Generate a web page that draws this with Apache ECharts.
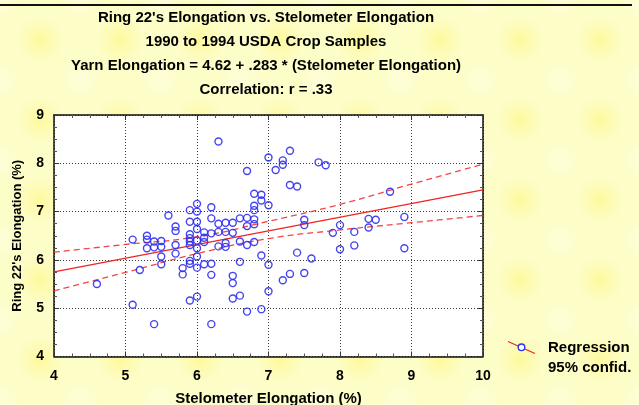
<!DOCTYPE html>
<html>
<head>
<meta charset="utf-8">
<script src="https://cdn.jsdelivr.net/npm/echarts@6/dist/echarts.min.js"></script>
<style>
  html, body { margin: 0; padding: 0; }
  body {
    width: 639px; height: 405px; overflow: hidden;
    background-color: #fdfdc8;
    background-image:
      radial-gradient(circle at 50% 50%, rgba(255, 245, 110, 0.45) 0, rgba(255, 245, 110, 0) 24px),
      radial-gradient(circle at 50% 50%, rgba(255, 255, 235, 0.5) 0, rgba(255, 255, 235, 0) 22px);
    background-size: 80px 80px, 80px 80px;
    background-position: 0 0, 40px 40px;
  }
  #chart { width: 639px; height: 405px; }
</style>
</head>
<body>
<div id="chart"></div>
<script>
// Stelometer elongation (x) and Ring 22's yarn elongation (y), 1990-1994 USDA crop samples
const stelometer = [
  4.6,
  5.1, 5.1,
  5.2,
  5.3, 5.3, 5.3,
  5.4, 5.4, 5.4,
  5.5, 5.5, 5.5, 5.5,
  5.6,
  5.7, 5.7, 5.7, 5.7,
  5.8, 5.8,
  5.9, 5.9, 5.9, 5.9, 5.9, 5.9, 5.9, 5.9, 5.9,
  6.0, 6.0, 6.0, 6.0, 6.0, 6.0, 6.0, 6.0, 6.0,
  6.1, 6.1, 6.1, 6.1,
  6.2, 6.2, 6.2, 6.2, 6.2, 6.2,
  6.3, 6.3, 6.3, 6.3,
  6.4, 6.4, 6.4, 6.4,
  6.5, 6.5, 6.5, 6.5, 6.5,
  6.6, 6.6, 6.6, 6.6,
  6.7, 6.7, 6.7, 6.7, 6.7,
  6.8, 6.8, 6.8, 6.8, 6.8, 6.8,
  6.9, 6.9, 6.9, 6.9,
  7.0, 7.0, 7.0, 7.0,
  7.1,
  7.2, 7.2, 7.2,
  7.3, 7.3, 7.3,
  7.4, 7.4,
  7.5, 7.5, 7.5,
  7.6,
  7.7,
  7.8,
  7.9,
  8.0, 8.0,
  8.2, 8.2,
  8.4, 8.4,
  8.5,
  8.7,
  8.9, 8.9
];
const yarn = [
  5.50,
  6.42, 5.07,
  5.79,
  6.50, 6.42, 6.24,
  6.38, 6.26, 4.67,
  6.39, 6.27, 6.07, 5.91,
  6.92,
  6.69, 6.60, 6.31, 6.13,
  5.83, 5.70,
  7.03, 6.79, 6.53, 6.45, 6.38, 6.31, 5.98, 5.92, 5.16,
  7.16, 7.00, 6.79, 6.64, 6.40, 6.24, 6.07, 5.84, 5.24,
  6.57, 6.46, 6.37, 5.91,
  7.09, 6.86, 6.55, 5.92, 5.69, 4.67,
  8.45, 6.75, 6.58, 6.28,
  6.77, 6.58, 6.35, 6.27,
  6.77, 6.56, 5.67, 5.52, 5.20,
  6.86, 6.38, 5.96, 5.26,
  7.84, 6.87, 6.70, 6.31, 4.93,
  7.37, 7.12, 7.03, 6.84, 6.74, 6.37,
  7.35, 7.23, 6.09, 4.98,
  8.12, 7.13, 5.90, 5.35,
  7.86,
  8.06, 7.97, 5.58,
  8.26, 7.55, 5.71,
  7.52, 6.15,
  6.83, 6.72, 5.73,
  6.03,
  8.02,
  7.96,
  6.56,
  6.72, 6.22,
  6.58, 6.30,
  6.85, 6.67,
  6.83,
  7.41,
  6.89, 6.24
];

// Fitted line: Yarn = 4.62 + .283 * Stelometer
const intercept = 4.62;
const slope = 0.283;
const lineX = [4, 10];

// 95% confidence band, sampled along the x range
const bandX     = [4,    5,    6,    7,    8,    9,    10];
const bandUpper = [6.16, 6.32, 6.48, 6.80, 7.15, 7.57, 7.98];
const bandLower = [5.36, 5.74, 6.13, 6.44, 6.62, 6.77, 6.92];

const xTicks = [4, 5, 6, 7, 8, 9, 10];
const yTicks = [4, 5, 6, 7, 8, 9];

const titleLines = [
  "Ring 22's Elongation vs. Stelometer Elongation",
  "1990 to 1994 USDA Crop Samples",
  "Yarn Elongation = 4.62 + .283 * (Stelometer Elongation)",
  "Correlation: r = .33"
];

const FONT = '"Liberation Sans", Arial, sans-serif';
const RED = '#f02424';
const BLUE = '#3030f0';

const chart = echarts.init(document.getElementById('chart'), null, { renderer: 'canvas' });

const pts = stelometer.map((x, i) => [x, yarn[i]]);
const regLine = lineX.map(x => [x, intercept + slope * x]);
const upper = bandX.map((x, i) => [x, bandUpper[i]]);
const lower = bandX.map((x, i) => [x, bandLower[i]]);

const gridLine = { show: true, lineStyle: { color: '#3a3a3a', type: [1, 2], width: 1 } };
const axisLineStyle = { show: true, lineStyle: { color: '#111', width: 1.5 } };
const labelText = { color: '#000', fontWeight: 'bold', fontSize: 14, fontFamily: FONT };
const nameText = { color: '#000', fontWeight: 'bold', fontSize: 15, fontFamily: FONT };

function xAxis(pos, labels) {
  return {
    type: 'value', position: pos, min: xTicks[0], max: xTicks[xTicks.length - 1], interval: 1,
    axisLine: axisLineStyle,
    axisTick: { show: true, inside: true, length: 5, lineStyle: { color: '#333' } },
    minorTick: { show: true, splitNumber: 4, length: 3, lineStyle: { color: '#555' } },
    splitLine: labels ? gridLine : { show: false },
    axisLabel: labels ? Object.assign({ show: true, margin: 13 }, labelText) : { show: false },
    name: labels ? 'Stelometer Elongation (%)' : '',
    nameLocation: 'middle', nameGap: 35,
    nameTextStyle: nameText
  };
}
function yAxis(pos, labels) {
  return {
    type: 'value', position: pos, min: yTicks[0], max: yTicks[yTicks.length - 1], interval: 1,
    axisLine: axisLineStyle,
    axisTick: { show: true, inside: true, length: 5, lineStyle: { color: '#333' } },
    minorTick: { show: true, splitNumber: 4, length: 3, lineStyle: { color: '#555' } },
    splitLine: labels ? gridLine : { show: false },
    axisLabel: labels ? Object.assign({ show: true, margin: 10 }, labelText) : { show: false },
    name: labels ? "Ring 22's Elongation (%)" : '',
    nameLocation: 'middle', nameGap: 30, nameRotate: 90,
    nameTextStyle: Object.assign({}, nameText, { fontSize: 13 })
  };
}

const titleGraphics = titleLines.map((t, i) => ({
  type: 'text', x: 266, y: 18 + i * 23.8,
  style: { text: t, fill: '#000', font: 'bold 15px ' + FONT, align: 'center', verticalAlign: 'middle' },
  silent: true
}));

chart.setOption({
  animation: false,
  backgroundColor: 'transparent',
  grid: {
    left: 54, right: 156, top: 115, bottom: 48.5,
    containLabel: false, outerBoundsMode: 'none',
    backgroundColor: '#ffffff', show: true, borderWidth: 0
  },
  xAxis: [xAxis('bottom', true), xAxis('top', false)],
  yAxis: [yAxis('left', true), yAxis('right', false)],
  series: [
    {
      type: 'line', data: upper, smooth: true, symbol: 'none', z: 3,
      lineStyle: { color: RED, width: 1.3, type: [6, 4], opacity: 0.85 }
    },
    {
      type: 'line', data: lower, smooth: true, symbol: 'none', z: 3,
      lineStyle: { color: RED, width: 1.3, type: [6, 4], opacity: 0.85 }
    },
    {
      type: 'line', data: regLine, symbol: 'none', z: 3,
      lineStyle: { color: RED, width: 1.4 }
    },
    {
      type: 'scatter', data: pts, symbol: 'circle', symbolSize: 7, z: 4,
      itemStyle: { color: 'rgba(255,255,255,0)', borderColor: BLUE, borderWidth: 1.4, opacity: 0.9 }
    }
  ],
  graphic: [
    { type: 'rect', shape: { x: 0, y: 4, width: 632, height: 2 }, style: { fill: '#111' }, silent: true },
    ...titleGraphics,
    { type: 'line', shape: { x1: 508, y1: 341.5, x2: 535, y2: 353.5 }, style: { stroke: RED, lineWidth: 1.3 }, silent: true },
    { type: 'circle', shape: { cx: 521.5, cy: 347.3, r: 3.3 }, style: { fill: '#fff', stroke: BLUE, lineWidth: 1.4 }, silent: true },
    { type: 'text', x: 548, y: 348, style: { text: 'Regression', fill: '#000', font: 'bold 15px ' + FONT, align: 'left', verticalAlign: 'middle' }, silent: true },
    { type: 'text', x: 548, y: 368, style: { text: '95% confid.', fill: '#000', font: 'bold 15px ' + FONT, align: 'left', verticalAlign: 'middle' }, silent: true }
  ]
});
</script>
</body>
</html>
